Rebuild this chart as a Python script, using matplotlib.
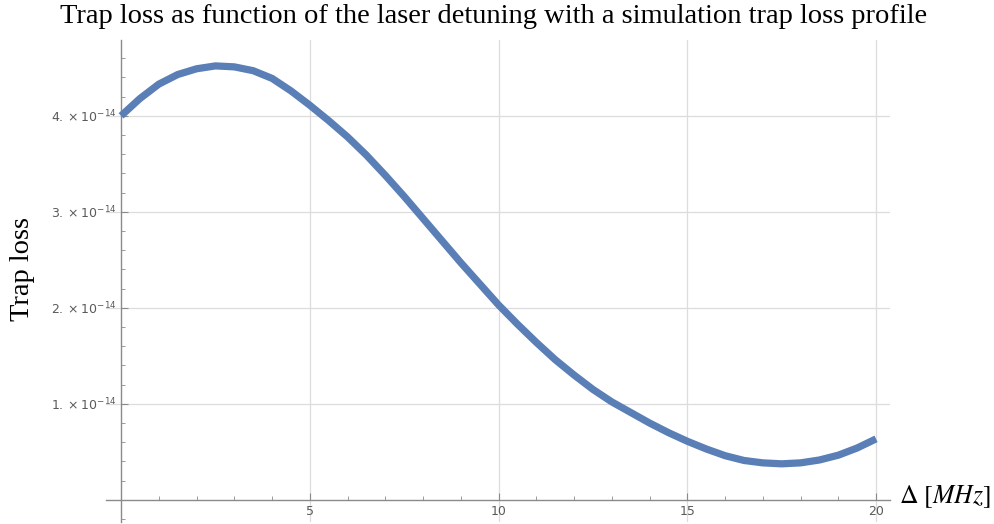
import matplotlib
matplotlib.use("Agg")
from matplotlib import pyplot as plt
from matplotlib.ticker import MultipleLocator, FuncFormatter
import numpy as np

# detuning in MHz, trap loss (units of 1e-14)
detuning = [0.0, 0.5, 1.0, 1.5, 2.0, 2.5, 3.0, 3.5, 4.0, 4.5,
            5.0, 5.5, 6.0, 6.5, 7.0, 7.5, 8.0, 8.5, 9.0, 9.5,
            10.0, 10.5, 11.0, 11.5, 12.0, 12.5, 13.0, 13.5, 14.0, 14.5,
            15.0, 15.5, 16.0, 16.5, 17.0, 17.5, 18.0, 18.5, 19.0, 19.5, 20.0]
trap_loss = [4.00, 4.18, 4.33, 4.43, 4.49, 4.52, 4.51, 4.47, 4.39, 4.26,
             4.11, 3.95, 3.78, 3.59, 3.38, 3.16, 2.93, 2.70, 2.47, 2.25,
             2.03, 1.83, 1.64, 1.46, 1.30, 1.15, 1.02, 0.91, 0.80, 0.70,
             0.61, 0.53, 0.46, 0.41, 0.385, 0.375, 0.385, 0.415, 0.465, 0.54, 0.635]
x_ticks = [5, 10, 15, 20]
y_ticks = [1e-14, 2e-14, 3e-14, 4e-14]

x = np.array(detuning)
y = np.array(trap_loss) * 1e-14

fig = plt.figure(figsize=(9.94, 5.24), dpi=100)
ax = fig.add_axes([0.1066, 0.004, 0.7888, 0.9197])

ax.plot(x, y, color="#5a7fb6", lw=5.2, solid_capstyle="butt",
        solid_joinstyle="round", zorder=3)

ax.set_xlim(-0.4, 20.37)
ax.set_ylim(-0.23e-14, 4.79e-14)

axis_col = "#8a8a8a"
ax.spines["left"].set_position(("data", 0))
ax.spines["bottom"].set_position(("data", 0))
ax.spines["right"].set_visible(False)
ax.spines["top"].set_visible(False)
for s in ["left", "bottom"]:
    ax.spines[s].set_color(axis_col)
    ax.spines[s].set_linewidth(1.0)

ax.set_xticks(x_ticks)
ax.set_yticks(y_ticks)
ax.xaxis.set_minor_locator(MultipleLocator(1))
ax.yaxis.set_minor_locator(MultipleLocator(0.2e-14))

def yfmt(v, pos):
    m = int(round(v / 1e-14))
    return r"$%d.\times10^{-14}$" % m

ax.yaxis.set_major_formatter(FuncFormatter(yfmt))
ax.tick_params(axis="both", which="major", direction="in", length=5,
               color=axis_col, labelcolor="#5a5a5a", labelsize=9)
ax.tick_params(axis="both", which="minor", direction="in", length=3,
               color=axis_col)
ax.tick_params(axis="x", pad=4)
ax.tick_params(axis="y", pad=3)

ax.grid(True, which="major", color="#dcdcdc", lw=0.9, zorder=0)
ax.set_axisbelow(True)

fig.suptitle("Trap loss as function of the laser detuning with a simulation trap loss profile",
             family="Liberation Serif", fontsize=20.5, y=0.993, va="top", x=0.4965)
fig.text(0.023, 0.487, "Trap loss", family="Liberation Serif", fontsize=20.5,
         rotation=90, ha="center", va="center")
fig.text(0.904, 0.052, r"$\Delta\ [MHz]$", fontsize=18.5, math_fontfamily="stix",
         ha="left", va="center")

fig.savefig("out.png", dpi=100)
